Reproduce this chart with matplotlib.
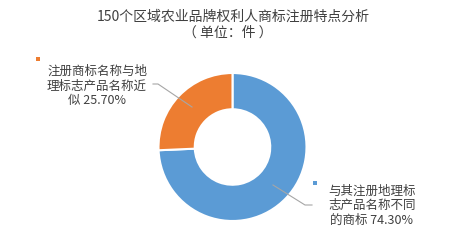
import matplotlib
matplotlib.use('Agg')
import matplotlib.pyplot as plt

plt.rcParams['font.family'] = ['Noto Sans CJK SC', 'DejaVu Sans']

# data
labels = ['与其注册地理标\n志产品名称不同\n的商标', '注册商标名称与地\n理标志产品名称近\n似']
values = [74.30, 25.70]
colors = ['#5B9BD5', '#ED7D31']
title1 = '150个区域农业品牌权利人商标注册特点分析'
title2 = '（ 单位：件 ）'

W, H = 466, 248
def yy(y):  # pixel from top -> data y
    return H - y

fig = plt.figure(figsize=(W/100, H/100), dpi=100)
ax = fig.add_axes([0, 0, 1, 1])

R = 74
ax.pie(values, colors=colors, startangle=90, counterclock=False,
       radius=R, center=(232.5, yy(147)),
       wedgeprops=dict(width=R*0.49, edgecolor='white', linewidth=1.5))
ax.set_xlim(0, W)
ax.set_ylim(0, H)
ax.set_aspect('auto')
ax.axis('off')

txtc = '#404040'
ax.text(233, yy(17), title1, ha='center', va='center', fontsize=10, color=txtc)
ax.text(228, yy(33), title2, ha='center', va='center', fontsize=10, color=txtc)

# leader lines
ax.plot([273, 305, 312], [yy(185), yy(205), yy(205)], color='#A6A6A6', lw=0.8)
ax.plot([192, 158, 153], [yy(107), yy(84), yy(84)], color='#A6A6A6', lw=0.8)

# legend-like markers
ax.scatter([315], [yy(183)], marker='s', s=12, color=colors[0], linewidths=0)
ax.scatter([38], [yy(59)], marker='s', s=12, color=colors[1], linewidths=0)

ax.text(372, yy(206), labels[0] + ' %.2f%%' % values[0], ha='center', va='center',
        fontsize=9, color=txtc, linespacing=1.15)
ax.text(97, yy(86), labels[1] + ' %.2f%%' % values[1], ha='center', va='center',
        fontsize=9, color=txtc, linespacing=1.15)

fig.savefig('out.png', dpi=100)
